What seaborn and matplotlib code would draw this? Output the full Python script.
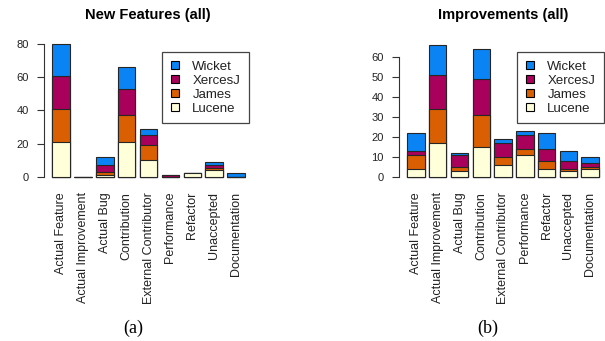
import numpy as np
import pandas as pd
import seaborn as sns
import matplotlib
matplotlib.use('Agg')
import matplotlib.pyplot as plt
from matplotlib.patches import Patch

# ------------------------------------------------
# DATA
# ------------------------------------------------
categories = ['Actual Feature', 'Actual Improvement', 'Actual Bug', 'Contribution',
              'External Contributor', 'Performance', 'Refactor', 'Unaccepted',
              'Documentation']
projects = ['Lucene', 'James', 'XercesJ', 'Wicket']   # bottom -> top

# (a) New Features (all)
nf_lucene = [21, 0, 1, 21, 10, 0, 2, 4, 0]
nf_james = [20, 0, 2, 16, 9, 0, 0, 1, 0]
nf_xerces = [20, 0, 4, 16, 6, 1, 0, 2, 0]
nf_wicket = [19, 0, 5, 13, 4, 0, 0, 2, 2]

# (b) Improvements (all)
im_lucene = [4, 17, 3, 15, 6, 11, 4, 3, 4]
im_james = [7, 17, 2, 16, 4, 3, 4, 1, 1]
im_xerces = [2, 17, 6, 18, 7, 7, 6, 4, 2]
im_wicket = [9, 15, 1, 15, 2, 2, 8, 5, 3]

nf_ticks = [0, 20, 40, 60, 80]
im_ticks = [0, 10, 20, 30, 40, 50, 60]

COLORS = {'Lucene': '#FFFFD9', 'James': '#D95F02', 'XercesJ': '#A8005B', 'Wicket': '#0A84F5'}
EDGE = '#262626'

W, H = 605, 341


def px_axes(fig, left, right, top, bottom):
    return fig.add_axes([left / W, 1 - bottom / H, (right - left) / W, (bottom - top) / H])


def stacked(ax, layers, ymax, ticks, title, title_x):
    df = pd.DataFrame(dict(zip(projects, layers)), index=categories)
    cum = df.cumsum(axis=1)
    # tallest first, then shorter layers drawn over
    for p in reversed(projects):
        sns.barplot(x=categories, y=cum[p].values, color=COLORS[p], saturation=1,
                    edgecolor=EDGE, linewidth=0.8, width=0.8, ax=ax, order=categories)
    ax.set_xlabel('')
    ax.set_ylabel('')
    ax.set_xlim(-0.78, 8.5)
    ax.set_ylim(0, ymax)
    for s in ['top', 'right', 'bottom']:
        ax.spines[s].set_visible(False)
    ax.spines['left'].set_bounds(ticks[0], ticks[-1])
    ax.spines['left'].set_linewidth(0.8)
    ax.spines['left'].set_color('#333333')
    ax.set_yticks(ticks)
    ax.tick_params(axis='y', left=True, length=5, width=0.8, color='#333333',
                   pad=6, labelsize=8, labelcolor='#222222')
    ax.tick_params(axis='x', bottom=False, length=0, pad=11, labelsize=9,
                   labelcolor='#222222')
    ax.set_xticks(range(len(categories)))
    ax.set_xticklabels(categories, rotation=90)
    ax.set_facecolor('white')
    for b in ax.patches:
        b.set_clip_on(False)
    fig.text(title_x / W, 1 - 15 / H, title, ha='center', va='center',
             fontsize=10.5, fontweight='bold', color='black')


sns.set_theme(style='white')
plt.rcParams['font.family'] = ['Liberation Sans', 'DejaVu Sans']
plt.rcParams['text.color'] = 'black'

fig = plt.figure(figsize=(W / 100, H / 100), dpi=100)

ax1 = px_axes(fig, 44, 247, 44, 176.7)
stacked(ax1, [nf_lucene, nf_james, nf_xerces, nf_wicket], 80, nf_ticks,
        'New Features (all)', 148)

ax2 = px_axes(fig, 399, 601, 44, 176.7)
stacked(ax2, [im_lucene, im_james, im_xerces, im_wicket], (176.7 - 44) / 2, im_ticks,
        'Improvements (all)', 503)

handles = [Patch(facecolor=COLORS[p], edgecolor='black', linewidth=0.8, label=p)
           for p in reversed(projects)]
for lx in (162, 517):
    leg = fig.legend(handles=handles, loc='upper left', bbox_to_anchor=(lx / W, 1 - 52 / H),
                     bbox_transform=fig.transFigure, borderaxespad=0, fontsize=9.5,
                     frameon=True, fancybox=False, framealpha=1, edgecolor='#444444',
                     handlelength=0.65, handleheight=0.65, handletextpad=1.0,
                     labelspacing=0.15, borderpad=0.65)
    leg.get_frame().set_linewidth(0.9)
    for t in leg.get_texts():
        t.set_color('#222222')

fig.text(133 / W, 1 - 328 / H, '(a)', ha='center', va='center', fontsize=13,
         family=['Liberation Serif', 'DejaVu Serif'])
fig.text(488 / W, 1 - 328 / H, '(b)', ha='center', va='center', fontsize=13,
         family=['Liberation Serif', 'DejaVu Serif'])

fig.savefig('out.png', dpi=100, facecolor='white')
